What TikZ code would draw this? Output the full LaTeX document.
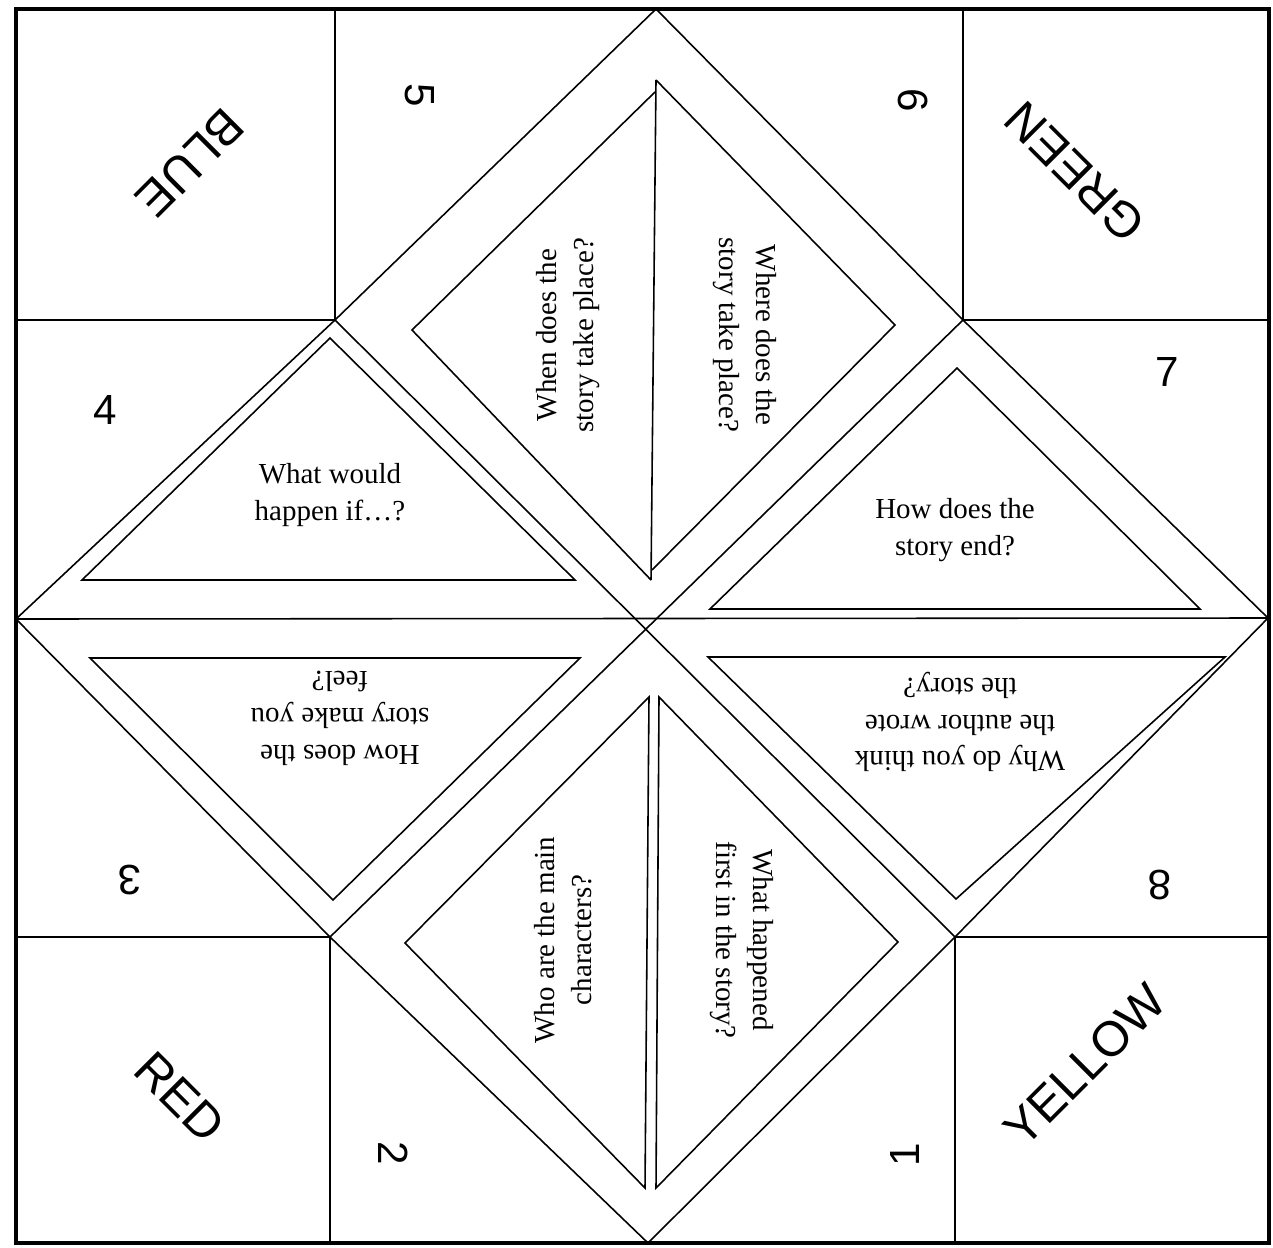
\documentclass[tikz,border=0pt]{standalone}
\usepackage{fontspec}
\setmainfont{Liberation Serif}
\setsansfont{Liberation Sans}
\begin{document}
\begin{tikzpicture}[x=0.02cm,y=-0.02cm,
cut/.style={draw=black,line width=0.9pt,line join=miter},
frame/.style={draw=black,line width=2.6pt},
question/.style={align=center,inner sep=0pt,font=\fontsize{16.5}{21}\selectfont,text=black},
numlabel/.style={inner sep=0pt,font=\sffamily\fontsize{24}{24}\selectfont},
colourlabel/.style={inner sep=0pt,font=\sffamily\fontsize{28}{28}\selectfont}
]
\useasboundingbox (0,0) rectangle (1273,1247);
% folding points
\coordinate (top) at (656,9);
\coordinate (left) at (16,619);
\coordinate (right) at (1268,618);
\coordinate (bottom) at (648,1243);
\coordinate (tl) at (335,320);
\coordinate (tr) at (963,320);
\coordinate (bl) at (330,937);
\coordinate (br) at (955,937);
% outer frame and corner squares
\draw[frame] (16,9) rectangle (1269,1243);
\draw[cut] (tl) -- (335,9) (tl) -- (16,320);
\draw[cut] (tr) -- (963,9) (tr) -- (1269,320);
\draw[cut] (bl) -- (330,1243) (bl) -- (16,937);
\draw[cut] (br) -- (955,1243) (br) -- (1269,937);
% big diamond, diagonals, middle line
\draw[cut] (top) -- (tl) -- (left) -- (bl) -- (bottom) -- (br) -- (right) -- (tr) -- cycle;
\draw[cut] (tl) -- (br) (tr) -- (bl);
\draw[cut] (left) -- (right);
% inner triangles
\draw[cut] (656,80) -- (651,580);
\draw[cut] (655,92) -- (412,330) -- (651,580);
\draw[cut] (656,80) -- (895,325) -- (652,570);
\draw[cut] (82,580) -- (330,338) -- (575,580) -- cycle;
\draw[cut] (90,658) -- (580,658) -- (333,900) -- cycle;
\draw[cut] (710,609) -- (957,368) -- (1200,609) -- cycle;
\draw[cut] (708,657) -- (1225,657) -- (956,899) -- cycle;
\draw[cut] (649,697) -- (405,943) -- (645,1188) -- cycle;
\draw[cut] (659,697) -- (898,942) -- (656,1188) -- cycle;
% questions
\node[question,rotate=90] (qwhen) at (568,335) {When does the\\story take place?};
\node[question,rotate=-90] (qwhere) at (745,335) {Where does the\\story take place?};
\node[question] (qwhat) at (330,495) {What would\\happen if…?};
\node[question] (qend) at (955,530) {How does the\\story end?};
\node[question,rotate=180] (qfeel) at (340,718) {How does the\\story make you\\feel?};
\node[question,rotate=180] (qwhy) at (960,722) {Why do you think\\the author wrote\\the story?};
\node[question,rotate=90] (qwho) at (563,940) {Who are the main\\characters?};
\node[question,rotate=-90] (qfirst) at (742,940) {What happened\\first in the story?};
% numbers
\node[numlabel,rotate=-90] (n5) at (420,95) {5};
\node[numlabel,rotate=-90] (n6) at (913,100) {6};
\node[numlabel] (n7) at (1167,372) {7};
\node[numlabel,rotate=180] (n8) at (1160,885) {8};
\node[numlabel,rotate=90] (n1) at (905,1155) {1};
\node[numlabel,rotate=-90] (n2) at (393,1153) {2};
\node[numlabel,rotate=180] (n3) at (130,880) {3};
\node[numlabel] (n4) at (105,410) {4};
% colours
\node[colourlabel,rotate=-135] (cblue) at (190,163) {BLUE};
\node[colourlabel,rotate=135] (cgreen) at (1075,172) {GREEN};
\node[colourlabel,rotate=-45] (cred) at (180,1097) {RED};
\node[colourlabel,rotate=45] (cyellow) at (1085,1065) {YELLOW};
\end{tikzpicture}
\end{document}
